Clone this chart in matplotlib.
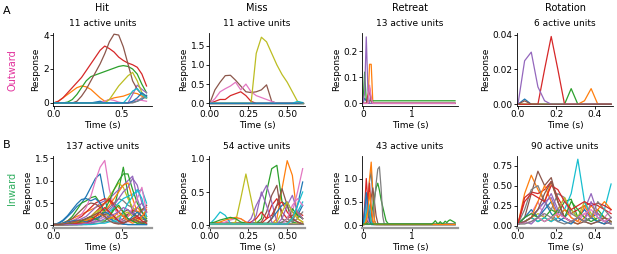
import numpy as np
import matplotlib.pyplot as plt

# time axes of each panel (s)
t_hit = np.linspace(0, 0.68, 21)
t_miss = np.linspace(0, 0.6, 19)
t_ret = np.linspace(0, 1.87, 57)
t_rot = np.linspace(0, 0.485, 15)

# ---- A: outward ----
hit_out = [
    [0,0,0,0,0,0,0,0,0,0.05,0.1,0.02,0,0,0,0,0,0.05,0.1,0.2,0.45],
    [0,0.1,0.3,0.5,0.7,0.9,1.0,0.95,0.8,0.55,0.3,0.1,0.2,0.3,0.35,0.4,0.5,0.6,0.55,0.4,0.3],
    [0,0,0,0.05,0.2,0.5,0.9,1.3,1.55,1.65,1.75,1.85,1.95,2.05,2.15,2.2,2.15,2.0,1.7,1.1,0.6],
    [0,0.1,0.3,0.6,0.9,1.2,1.5,1.9,2.3,2.7,3.1,3.35,3.2,3.0,2.7,2.5,2.35,2.25,2.1,1.7,1.0],
    [0,0,0,0,0,0,0,0,0,0,0,0,0,0,0,0,0,0.5,1.05,0.8,0.6],
    [0,0,0,0,0,0.1,0.4,0.8,1.3,1.8,2.3,2.9,3.6,4.05,4.0,3.3,2.3,1.3,0.8,0.5,0.4],
    [0,0,0,0,0,0,0,0,0,0,0,0.1,0.2,0.15,0.05,0,0,0.1,0.2,0.15,0.1],
    [0,0,0,0,0,0,0,0,0,0,0,0,0,0,0,0,0,0,0.1,0.3,0.3],
    [0,0,0,0,0,0,0,0,0,0,0,0,0.2,0.6,1.0,1.3,1.6,1.8,1.3,0.6,0.3],
    [0,0,0,0,0,0,0,0,0,0,0,0,0,0,0,0,0.3,0.7,0.85,0.5,0.3],
    [0,0,0,0,0,0,0,0,0,0,0,0,0,0,0,0,0,0.1,0.3,0.6,0.4],
]
miss_out = [
    [0,0,0,0,0,0,0,0,0,0,0,0,0,0,0,0,0,0,0],
    [0,0,0,0,0,0,0,0,0,0,0,0,0,0,0,0,0,0,0],
    [0,0,0,0,0,0,0,0,0,0,0,0,0,0,0,0,0,0,0],
    [0,0.05,0.1,0.1,0.2,0.25,0.3,0.2,0.05,0,0,0,0,0,0,0,0,0,0],
    [0,0,0,0,0,0,0,0,0,0,0,0,0,0,0,0,0,0,0],
    [0,0.35,0.55,0.72,0.73,0.6,0.45,0.3,0.28,0.3,0.35,0.48,0.05,0,0,0,0,0,0],
    [0,0.12,0.3,0.38,0.45,0.55,0.35,0.5,0.3,0.2,0.15,0.1,0.05,0,0,0,0,0,0],
    [0,0,0,0,0,0,0,0,0,0,0,0,0,0,0,0,0,0,0],
    [0,0,0,0,0,0,0,0,0,1.3,1.72,1.6,1.3,1.0,0.75,0.55,0.3,0.05,0],
    [0,0,0,0,0,0,0,0,0,0,0,0,0,0,0,0,0,0.05,0.02],
    [0,0,0,0,0,0,0,0,0,0,0,0,0,0,0,0,0,0,0.01],
]
ret_out = [
    [0,0.02,0.01,0],
    [0,0,0,0,0.15,0.15,0],
    [0,0.12,0.01],
    [0,0,0,0.03,0.06,0.01,0],
    [0,0.04,0.255,0.05,0],
    [0,0,0,0.02,0.05,0.01,0],
    [0,0,0,0,0.07,0.02,0],
]
rot_out = [
    [0,0.003,0,0,0,0,0,0,0,0,0,0,0,0,0],
    [0,0,0,0,0,0,0,0,0,0,0.002,0.009,0,0,0],
    [0,0,0,0,0,0,0,0,0.009,0,0,0,0,0,0],
    [0,0,0,0,0.02,0.039,0.02,0,0,0,0,0,0,0,0],
    [0,0.025,0.03,0.01,0.002,0,0,0,0,0,0,0,0,0,0],
    [0,0.002,0,0,0,0,0,0,0,0,0,0,0,0,0],
]

# ---- B: inward ----
hit_in = [
    [0.02,0.05,0.1,0.2,0.3,0.42,0.5,0.65,0.85,1.05,1.15,0.6,0.2,0.08,0.05,0.03,0.02,0.02,0.02,0.02,0.02],
    [0.02,0.02,0.05,0.1,0.15,0.2,0.25,0.3,0.35,0.4,0.45,0.5,0.55,0.5,0.4,0.3,0.2,0.3,0.4,0.3,0.2],
    [0.02,0.03,0.05,0.1,0.2,0.35,0.5,0.55,0.62,0.65,0.5,0.3,0.2,0.4,0.8,1.3,0.7,0.3,0.1,0.05,0.03],
    [0.02,0.02,0.02,0.05,0.1,0.15,0.2,0.3,0.4,0.5,0.55,0.6,0.55,0.4,0.3,0.2,0.25,0.35,0.3,0.2,0.1],
    [0.02,0.02,0.02,0.02,0.05,0.1,0.15,0.2,0.3,0.4,0.5,0.55,0.6,0.7,0.8,0.9,1.0,1.1,0.6,0.3,0.45],
    [0.02,0.03,0.05,0.1,0.15,0.25,0.35,0.45,0.5,0.48,0.4,0.3,0.2,0.15,0.2,0.3,0.35,0.25,0.2,0.15,0.1],
    [0.02,0.02,0.03,0.05,0.1,0.15,0.25,0.4,0.65,1.0,1.3,1.45,0.8,0.4,0.2,0.1,0.08,0.1,0.2,0.3,0.2],
    [0.02,0.02,0.02,0.02,0.02,0.03,0.05,0.1,0.15,0.2,0.25,0.3,0.4,0.5,0.6,0.55,0.45,0.4,0.3,0.2,0.15],
    [0.02,0.02,0.02,0.02,0.02,0.02,0.05,0.1,0.15,0.25,0.35,0.5,0.65,0.8,0.95,0.85,0.6,0.4,0.3,0.2,0.1],
    [0.02,0.02,0.02,0.02,0.02,0.02,0.02,0.03,0.05,0.1,0.15,0.2,0.3,0.4,0.5,0.6,0.65,0.7,0.75,0.8,0.5],
    [0.02,0.05,0.12,0.22,0.35,0.48,0.58,0.6,0.55,0.6,0.5,0.3,0.15,0.1,0.05,0.03,0.02,0.02,0.02,0.02,0.02],
    [0.02,0.02,0.02,0.02,0.02,0.03,0.05,0.08,0.1,0.15,0.2,0.3,0.45,0.6,0.75,0.9,0.95,0.6,0.3,0.35,0.4],
    [0.02,0.02,0.02,0.02,0.02,0.02,0.02,0.03,0.05,0.1,0.2,0.35,0.55,0.8,1.0,1.15,1.15,0.8,0.5,0.3,0.15],
    [0.02,0.02,0.02,0.03,0.05,0.08,0.1,0.15,0.2,0.3,0.4,0.5,0.6,0.45,0.3,0.2,0.15,0.1,0.15,0.2,0.3],
    [0.02,0.02,0.02,0.02,0.02,0.02,0.03,0.05,0.1,0.15,0.2,0.25,0.35,0.45,0.6,0.75,0.85,1.05,0.9,0.5,0.3],
    [0.02,0.02,0.02,0.02,0.03,0.05,0.08,0.1,0.12,0.15,0.2,0.25,0.2,0.15,0.1,0.15,0.25,0.3,0.2,0.35,0.45],
    [0.02,0.02,0.02,0.02,0.02,0.02,0.03,0.05,0.08,0.1,0.15,0.2,0.25,0.2,0.15,0.1,0.2,0.4,0.6,0.85,0.3],
    [0.02,0.02,0.02,0.02,0.02,0.02,0.02,0.02,0.03,0.05,0.05,0.08,0.1,0.08,0.05,0.1,0.15,0.1,0.05,0.1,0.05],
    [0.02,0.02,0.02,0.02,0.02,0.03,0.05,0.1,0.2,0.3,0.35,0.3,0.2,0.15,0.2,0.25,0.3,0.2,0.1,0.15,0.2],
    [0.02,0.02,0.02,0.02,0.02,0.02,0.02,0.02,0.02,0.03,0.05,0.05,0.08,0.1,0.1,0.3,0.5,0.65,0.8,0.6,0.2],
    [0.02,0.03,0.05,0.08,0.1,0.12,0.1,0.08,0.1,0.15,0.2,0.3,0.25,0.2,0.1,0.05,0.1,0.2,0.3,0.2,0.1],
    [0.02,0.02,0.03,0.05,0.05,0.08,0.1,0.12,0.15,0.2,0.25,0.2,0.15,0.2,0.3,0.2,0.1,0.05,0.1,0.2,0.35],
    [0.02,0.02,0.02,0.03,0.05,0.05,0.1,0.15,0.2,0.15,0.1,0.1,0.2,0.35,0.45,0.3,0.15,0.1,0.05,0.05,0.1],
    [0.02,0.02,0.02,0.02,0.03,0.05,0.05,0.05,0.1,0.2,0.3,0.4,0.3,0.2,0.1,0.05,0.1,0.15,0.2,0.1,0.05],
    [0.02,0.02,0.02,0.02,0.02,0.02,0.03,0.05,0.05,0.08,0.1,0.15,0.2,0.25,0.3,0.4,0.35,0.25,0.4,0.5,0.3],
    [0.02,0.02,0.03,0.05,0.08,0.1,0.12,0.15,0.2,0.25,0.3,0.2,0.1,0.05,0.03,0.05,0.1,0.15,0.1,0.05,0.1],
]
miss_in = [
    [0.03,0.03,0.03,0.03,0.03,0.03,0.03,0.03,0.03,0.03,0.03,0.03,0.03,0.03,0.03,0.03,0.03,0.3,0.65],
    [0.02,0.02,0.02,0.02,0.02,0.02,0.02,0.02,0.02,0.02,0.02,0.02,0.02,0.1,0.55,0.97,0.75,0.1,0.05],
    [0.03,0.03,0.03,0.03,0.03,0.03,0.03,0.03,0.03,0.03,0.1,0.5,0.85,0.9,0.35,0.3,0.05,0.03,0.03],
    [0.03,0.03,0.03,0.03,0.03,0.03,0.03,0.03,0.03,0.03,0.03,0.1,0.3,0.4,0.2,0.1,0.15,0.2,0.15],
    [0.02,0.02,0.02,0.02,0.02,0.02,0.02,0.02,0.1,0.3,0.45,0.6,0.35,0.05,0.02,0.02,0.02,0.02,0.02],
    [0.03,0.03,0.03,0.03,0.03,0.03,0.03,0.03,0.03,0.03,0.05,0.2,0.45,0.6,0.1,0.05,0.1,0.2,0.1],
    [0.02,0.02,0.02,0.05,0.08,0.1,0.1,0.05,0.03,0.02,0.02,0.02,0.02,0.02,0.05,0.1,0.2,0.5,0.85],
    [0.02,0.02,0.02,0.02,0.02,0.02,0.02,0.02,0.02,0.02,0.02,0.02,0.02,0.02,0.05,0.1,0.05,0.1,0.2],
    [0.02,0.02,0.02,0.02,0.02,0.05,0.4,0.77,0.4,0.02,0.02,0.02,0.02,0.02,0.02,0.02,0.02,0.02,0.02],
    [0.02,0.1,0.2,0.15,0.03,0.02,0.02,0.02,0.02,0.02,0.02,0.02,0.02,0.02,0.02,0.02,0.1,0.2,0.35],
    [0.02,0.02,0.02,0.02,0.02,0.02,0.02,0.02,0.02,0.02,0.02,0.02,0.1,0.2,0.3,0.35,0.2,0.15,0.3],
    [0.02,0.03,0.05,0.08,0.1,0.12,0.1,0.05,0.02,0.02,0.02,0.02,0.02,0.02,0.02,0.02,0.1,0.2,0.1],
    [0.03,0.05,0.08,0.1,0.12,0.1,0.05,0.03,0.03,0.03,0.03,0.03,0.03,0.03,0.03,0.1,0.25,0.15,0.1],
    [0.02,0.02,0.02,0.02,0.02,0.02,0.02,0.02,0.05,0.1,0.2,0.1,0.15,0.3,0.35,0.2,0.1,0.05,0.02],
    [0.02,0.02,0.02,0.02,0.02,0.02,0.02,0.02,0.02,0.15,0.5,0.3,0.05,0.02,0.1,0.3,0.45,0.2,0.1],
    [0.02,0.02,0.02,0.02,0.02,0.02,0.02,0.02,0.02,0.02,0.02,0.02,0.1,0.3,0.55,0.3,0.1,0.05,0.02],
    [0.02,0.02,0.02,0.02,0.02,0.02,0.02,0.02,0.02,0.02,0.02,0.02,0.02,0.02,0.02,0.1,0.3,0.4,0.3],
    [0.02,0.02,0.02,0.02,0.02,0.02,0.02,0.02,0.02,0.02,0.02,0.02,0.02,0.02,0.02,0.02,0.02,0.02,0.02],
    [0.02,0.02,0.02,0.02,0.02,0.02,0.02,0.02,0.02,0.02,0.02,0.02,0.02,0.05,0.2,0.35,0.2,0.1,0.05],
    [0.02,0.02,0.02,0.02,0.02,0.02,0.02,0.02,0.02,0.02,0.02,0.02,0.02,0.02,0.02,0.02,0.1,0.3,0.5],
]
ret_in = [
    [0.02,0.05,0.2,0.6,0.95,1.15,0.6,0.1,0.02],
    [0.02,0.05,0.1,0.5,1.0,1.35,0.7,0.1,0.02],
    [0.02,0.02,0.03,0.05,0.1,0.2,0.4,0.6,0.8,0.9,0.75,0.55,0.4,0.25,0.1,0.05,0.03],
    [0.02,0.4,1.0,0.5,0.9,0.3,0.05,0.02],
    [0.02,0.2,0.6,0.3,0.05,0.02],
    [0.02,0.02,0.05,0.1,0.3,0.6,0.8,0.5,0.2,0.05,0.02],
    [0.02,0.1,0.2,0.15,0.05,0.02],
    [0.02,0.02,0.02,0.02,0.02,0.05,0.2,0.5,0.9,1.2,1.25,0.8,0.2,0.02],
    [0.02,0.05,0.15,0.3,0.2,0.05,0.02],
    [0.02,0.1,0.3,0.5,0.4,0.1,0.02],
    [0.02,0.3,0.7,0.4,0.1,0.02],
    [0.02,0.02,0.1,0.3,0.7,0.4,0.1,0.02],
    [0.03]*43 + [0.06,0.1,0.05,0.04,0.08,0.04,0.05,0.09,0.06,0.1,0.12,0.1,0.08,0.06],
]
rot_in = [
    [0.02,0.05,0.1,0.2,0.3,0.15,0.05,0.1,0.2,0.1,0.05,0.1,0.15,0.1,0.05],
    [0.02,0.4,0.63,0.45,0.3,0.55,0.3,0.1,0.05,0.02,0.1,0.25,0.15,0.1,0.05],
    [0.02,0.05,0.1,0.05,0.1,0.2,0.15,0.3,0.33,0.1,0.05,0.1,0.2,0.1,0.05],
    [0.02,0.35,0.42,0.4,0.45,0.55,0.35,0.2,0.15,0.2,0.25,0.28,0.25,0.2,0.15],
    [0.02,0.05,0.1,0.2,0.3,0.35,0.15,0.1,0.05,0.1,0.2,0.4,0.15,0.05,0.1],
    [0.02,0.1,0.4,0.68,0.5,0.6,0.3,0.1,0.05,0.02,0.05,0.1,0.05,0.02,0.05],
    [0.02,0.1,0.15,0.3,0.1,0.05,0.2,0.35,0.1,0.05,0.15,0.1,0.05,0.1,0.2],
    [0.02,0.2,0.45,0.5,0.3,0.2,0.4,0.35,0.15,0.1,0.05,0.02,0.05,0.1,0.05],
    [0.02,0.05,0.1,0.15,0.1,0.05,0.2,0.35,0.2,0.1,0.3,0.15,0.05,0.1,0.05],
    [0.02,0.05,0.1,0.05,0.1,0.05,0.1,0.2,0.4,0.83,0.3,0.1,0.05,0.2,0.52],
    [0.02,0.1,0.2,0.1,0.2,0.3,0.1,0.05,0.02,0.1,0.2,0.1,0.05,0.02,0.1],
    [0.02,0.05,0.1,0.3,0.5,0.3,0.1,0.2,0.1,0.05,0.25,0.1,0.2,0.3,0.2],
    [0.02,0.1,0.15,0.1,0.05,0.1,0.2,0.1,0.3,0.2,0.1,0.05,0.1,0.05,0.02],
    [0.02,0.3,0.4,0.35,0.3,0.5,0.45,0.3,0.2,0.25,0.3,0.25,0.28,0.25,0.2],
    [0.02,0.05,0.02,0.1,0.25,0.4,0.2,0.1,0.05,0.1,0.05,0.3,0.1,0.05,0.02],
    [0.02,0.05,0.1,0.2,0.4,0.55,0.3,0.1,0.05,0.1,0.05,0.02,0.05,0.1,0.05],
    [0.02,0.03,0.05,0.1,0.05,0.1,0.15,0.1,0.05,0.1,0.15,0.2,0.1,0.05,0.1],
    [0.02,0.02,0.05,0.1,0.15,0.1,0.05,0.02,0.05,0.1,0.05,0.1,0.3,0.2,0.1],
]

col_titles = ["Hit", "Miss", "Retreat", "Rotation"]
n_units = [[11, 11, 13, 6], [137, 54, 43, 90]]
row_labels = ["Outward", "Inward"]
row_colors = ["#e2329c", "#2fae5f"]

plt.rcParams['font.size'] = 6.5
fig = plt.figure(figsize=(6.17, 2.54), dpi=100)

lefts = [53, 209, 362, 517]
widths = [99, 96, 96, 96]
row_box = [(33, 106), (156, 228)]
ylims = [[(-0.18, 4.12), (-0.07, 1.83), (-0.01, 0.27), (-0.001, 0.041)],
         [(-0.057, 1.55), (-0.04, 1.04), (-0.055, 1.48), (-0.03, 0.87)]]
xlims = [(-0.005, 0.72), (-0.005, 0.615), (-0.02, 1.93), (-0.005, 0.495)]
yticks = [[[0, 2, 4], [0, 0.5, 1.0, 1.5], [0, 0.1, 0.2], [0, 0.02, 0.04]],
          [[0, 0.5, 1.0, 1.5], [0, 0.5, 1.0], [0, 0.5, 1.0], [0, 0.25, 0.5, 0.75]]]
xticks = [[0, 0.5], [0, 0.25, 0.5], [0, 1], [0, 0.2, 0.4]]
yfmt = [["%d", "%.1f", "%.1f", "%.2f"], ["%.1f", "%.1f", "%.1f", "%.2f"]]
xfmt = ["%.1f", "%.2f", "%d", "%.1f"]
times = [t_hit, t_miss, t_ret, t_rot]
data = [[hit_out, miss_out, ret_out, rot_out], [hit_in, miss_in, ret_in, rot_in]]

W, H = 617, 254
for r in range(2):
    top, bot = row_box[r]
    for c in range(4):
        ax = fig.add_axes([lefts[c] / W, 1 - bot / H, widths[c] / W, (bot - top) / H])
        t = times[c]
        for i, y in enumerate(data[r][c]):
            y = np.array(y, dtype=float)
            if len(y) < len(t):
                y = np.concatenate([y, np.full(len(t) - len(y), y[-1])])
            ax.plot(t, y, color="C%d" % (i % 10), lw=0.9)
        ax.set_xlim(xlims[c])
        ax.set_ylim(ylims[r][c])
        ax.set_yticks(yticks[r][c])
        ax.set_yticklabels([yfmt[r][c] % v for v in yticks[r][c]])
        ax.set_xticks(xticks[c])
        ax.set_xticklabels([xfmt[c] % v for v in xticks[c]])
        ax.spines['top'].set_visible(False)
        ax.spines['right'].set_visible(False)
        ax.tick_params(length=2, width=0.6, pad=1, labelsize=6.5)
        ax.spines['left'].set_linewidth(0.6)
        if r == 1:
            ax.spines['bottom'].set_color('#999999')
            ax.spines['bottom'].set_linewidth(1.6)
        else:
            ax.spines['bottom'].set_linewidth(0.6)
        ax.set_xlabel("Time (s)", fontsize=6.5, labelpad=1)
        ax.set_ylabel("Response", fontsize=6.5, labelpad=2)
        ax.set_title("%d active units" % n_units[r][c], fontsize=6.5, pad=5)
        if r == 0:
            fig.text((lefts[c] + widths[c] / 2) / W, 1 - 8 / H, col_titles[c],
                     ha='center', va='center', fontsize=7)

fig.text(3 / W, 1 - 11 / H, "A", fontsize=8, va='center')
fig.text(3 / W, 1 - 145 / H, "B", fontsize=8, va='center')
fig.text(12 / W, 1 - 70 / H, row_labels[0], color=row_colors[0], rotation=90,
         ha='center', va='center', fontsize=7)
fig.text(12 / W, 1 - 188 / H, row_labels[1], color=row_colors[1], rotation=90,
         ha='center', va='center', fontsize=7)

fig.savefig("out.png", dpi=100)
